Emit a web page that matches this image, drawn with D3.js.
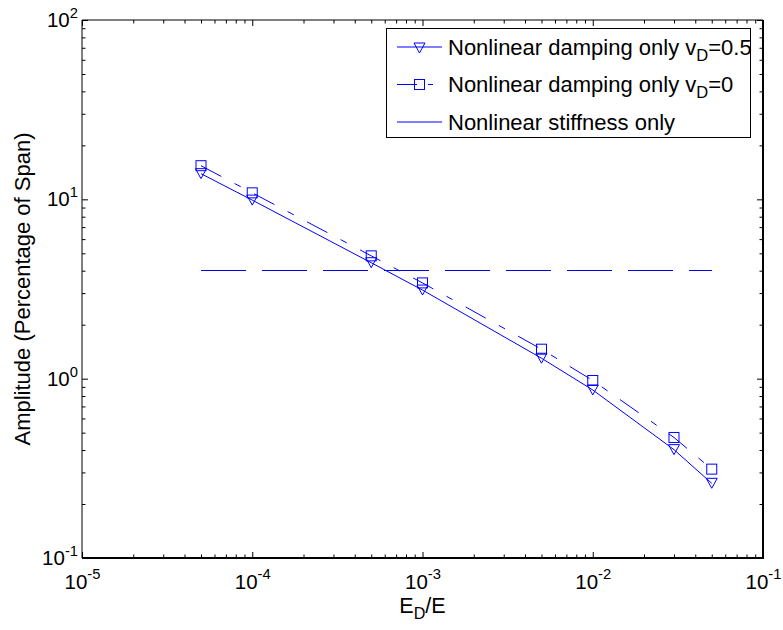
<!DOCTYPE html>
<html><head><meta charset="utf-8">
<script src="https://cdn.jsdelivr.net/npm/d3@7"></script>
<style>
body{margin:0;background:#fff}
svg{display:block;font-family:"Liberation Sans",Arial,sans-serif}
</style></head><body>
<svg id="chart" width="783" height="630"></svg>
<script>
// Stiffness ratio E_D/E and response amplitudes (% of span)
const ratio  = [5e-5, 1e-4, 5e-4, 1e-3, 5e-3, 1e-2, 3e-2, 5e-2];
const ampV05 = [13.9, 9.9, 4.43, 3.12, 1.30, 0.865, 0.402, 0.261];
const ampV0  = [15.4, 10.87, 4.84, 3.42, 1.46, 0.977, 0.47, 0.313];
// Constant amplitude level across the ratio range
const levelX = [5e-5, 5e-2];
const levelY = [4, 4];
// Axis decades
const xTicks = [1e-5, 1e-4, 1e-3, 1e-2, 1e-1];
const yTicks = [1e-1, 1e0, 1e1, 1e2];
// Legend entries: [before subscript, subscript, after subscript]
const legendLabels = [
  ["Nonlinear damping only v", "D", "=0.5"],
  ["Nonlinear damping only v", "D", "=0"],
  ["Nonlinear stiffness only", "", ""]
];

const svg = d3.select("#chart");
const L = 82, R = 763, T = 20, B = 558;
const blue = "#0000ff";
const fs = 20.5;

const x = d3.scaleLog().domain([1e-5, 1e-1]).range([L, R]);
const y = d3.scaleLog().domain([1e-1, 1e2]).range([B, T]);

const isMajor = v => Math.abs(Math.log10(v) - Math.round(Math.log10(v))) < 1e-9;
const xMinor = x.ticks().filter(v => !isMajor(v));
const yMinor = y.ticks().filter(v => !isMajor(v));

function supLabel(sel) {
  sel.selectAll(".tick text").each(function(d) {
    const t = d3.select(this);
    t.text(null);
    t.append("tspan").text("10");
    t.append("tspan").attr("dy", "-0.62em").attr("font-size", "0.72em")
      .text(String(Math.round(Math.log10(d))));
  });
}

function styleAxis(g) {
  g.select(".domain").remove();
  g.selectAll(".tick line").attr("stroke", "#000");
  g.selectAll(".tick text").attr("fill", "#000").attr("font-size", fs)
    .attr("font-family", '"Liberation Sans",Arial,sans-serif');
}

// Ticks point into the plot on all four sides
svg.append("g").attr("transform", `translate(0,${B})`)
  .call(d3.axisBottom(x).tickValues(xTicks).tickSize(-6).tickPadding(16).tickFormat(d => d))
  .call(styleAxis).call(supLabel);
svg.append("g").attr("transform", `translate(0,${B})`)
  .call(d3.axisBottom(x).tickValues(xMinor).tickSize(-3.5).tickFormat("")).call(styleAxis);
svg.append("g").attr("transform", `translate(0,${T})`)
  .call(d3.axisTop(x).tickValues(xTicks).tickSize(-6).tickFormat("")).call(styleAxis);
svg.append("g").attr("transform", `translate(0,${T})`)
  .call(d3.axisTop(x).tickValues(xMinor).tickSize(-3.5).tickFormat("")).call(styleAxis);

svg.append("g").attr("transform", `translate(${L},0)`)
  .call(d3.axisLeft(y).tickValues(yTicks).tickSize(-6).tickPadding(4).tickFormat(d => d))
  .call(styleAxis).call(supLabel);
svg.append("g").attr("transform", `translate(${L},0)`)
  .call(d3.axisLeft(y).tickValues(yMinor).tickSize(-3.5).tickFormat("")).call(styleAxis);
svg.append("g").attr("transform", `translate(${R},0)`)
  .call(d3.axisRight(y).tickValues(yTicks).tickSize(-6).tickFormat("")).call(styleAxis);
svg.append("g").attr("transform", `translate(${R},0)`)
  .call(d3.axisRight(y).tickValues(yMinor).tickSize(-3.5).tickFormat("")).call(styleAxis);

// Axes box
svg.append("path").attr("fill", "none").attr("stroke", "#000").attr("stroke-width", 1)
  .attr("d", `M${L},${B}V${T}H${R}`);
svg.append("path").attr("fill", "none").attr("stroke", "#000").attr("stroke-width", 2)
  .attr("d", `M${L},${B}H${R}V${T}`);

// Data lines
const line = d3.line().x(d => x(d[0])).y(d => y(d[1]));
const ptsV05 = ratio.map((r, i) => [r, ampV05[i]]);
const ptsV0 = ratio.map((r, i) => [r, ampV0[i]]);
const ptsLevel = levelX.map((r, i) => [r, levelY[i]]);

svg.append("path").attr("d", line(ptsLevel)).attr("fill", "none")
  .attr("stroke", "#0000e6").attr("stroke-width", 1.2).attr("shape-rendering", "crispEdges")
  .attr("stroke-dasharray", "45,16");
svg.append("path").attr("d", line(ptsV05)).attr("fill", "none")
  .attr("stroke", blue).attr("stroke-width", 1);
svg.append("path").attr("d", line(ptsV0)).attr("fill", "none")
  .attr("stroke", blue).attr("stroke-width", 1).attr("stroke-dasharray", "23,15,7,15");

const triPath = "M-5.5,-5L5.5,-5L0,5Z";
function tri(g, cx, cy) {
  g.append("path").attr("d", triPath).attr("transform", `translate(${cx},${cy})`)
    .attr("fill", "none").attr("stroke", blue).attr("stroke-width", 1);
}
function sq(g, cx, cy) {
  g.append("rect").attr("x", cx - 5).attr("y", cy - 5).attr("width", 10).attr("height", 10)
    .attr("fill", "none").attr("stroke", blue).attr("stroke-width", 1);
}
const mk = svg.append("g");
ptsV05.forEach(p => tri(mk, x(p[0]), y(p[1])));
ptsV0.forEach(p => sq(mk, x(p[0]), y(p[1])));

// Axis titles
const xl = svg.append("text").attr("x", (L + R) / 2).attr("y", 613)
  .attr("text-anchor", "middle").attr("font-size", 21.5);
xl.append("tspan").text("E");
xl.append("tspan").attr("dy", "0.38em").attr("font-size", "0.75em").text("D");
xl.append("tspan").attr("dy", "-0.285em").text("/E");

svg.append("text").attr("transform", `translate(22,${(T + B) / 2}) rotate(-90)`)
  .attr("text-anchor", "middle").attr("dy", "0.35em").attr("font-size", 22)
  .text("Amplitude (Percentage of Span)");

// Legend
const lg = svg.append("g");
lg.append("rect").attr("x", 386.5).attr("y", 28.5).attr("width", 364).attr("height", 109)
  .attr("fill", "#fff").attr("stroke", "#000").attr("stroke-width", 1);
const rowY = [47, 84.5, 122];
const dashes = [null, "20,11,5,11", null];
legendLabels.forEach((lab, i) => {
  const yy = rowY[i];
  const ln = lg.append("line").attr("x1", 397).attr("x2", 442).attr("y1", yy).attr("y2", yy)
    .attr("stroke", blue).attr("stroke-width", 1);
  if (dashes[i]) ln.attr("stroke-dasharray", dashes[i]);
  if (i === 0) tri(lg, 419.5, yy + 1);
  if (i === 1) sq(lg, 419.5, yy);
  const t = lg.append("text").attr("x", 448).attr("y", yy).attr("dy", "0.35em").attr("font-size", 22);
  t.append("tspan").text(lab[0]);
  if (lab[1]) {
    t.append("tspan").attr("dy", "0.38em").attr("font-size", "0.75em").text(lab[1]);
    t.append("tspan").attr("dy", "-0.285em").text(lab[2]);
  }
});
</script>
</body></html>
